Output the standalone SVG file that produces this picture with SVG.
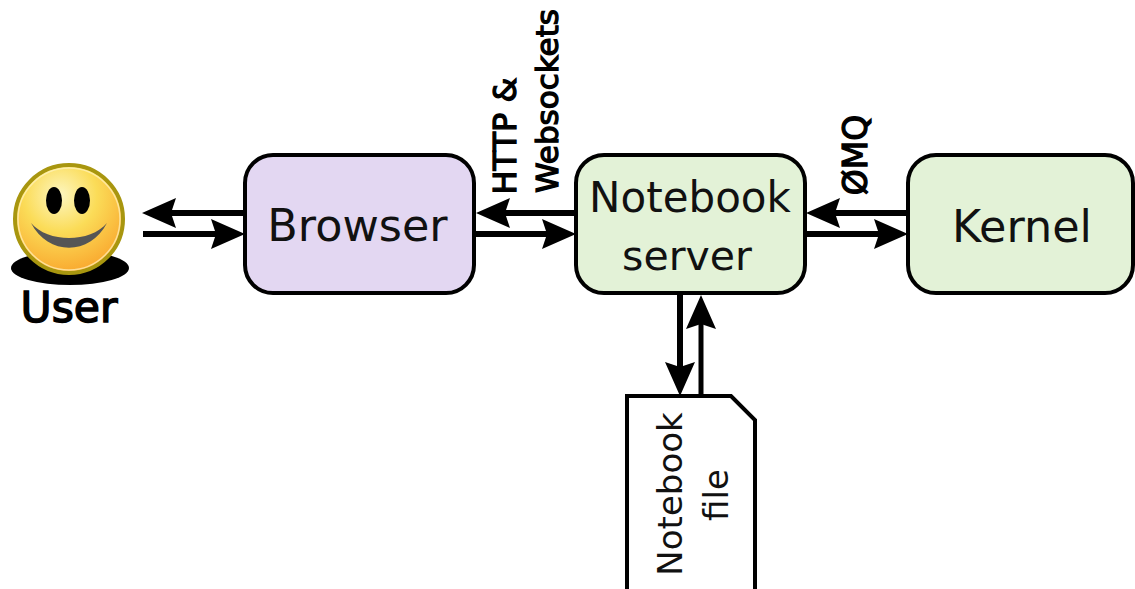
<svg xmlns="http://www.w3.org/2000/svg" width="1135" height="589" viewBox="0 0 1135 589">
<style>
.box{stroke:#000;stroke-width:4}
.t{font-family:"DejaVu Sans",sans-serif;font-size:44.5px;fill:#111;text-anchor:middle}
.n{font-size:42px}
.s{font-family:"DejaVu Sans",sans-serif;font-size:34px;fill:#111;text-anchor:middle}
.l{font-family:"DejaVu Sans",sans-serif;font-size:32px;fill:#000;stroke:#000;stroke-width:1.300;text-anchor:middle}
.c{fill:none;stroke:#000;stroke-width:6}
.c2{fill:none;stroke:#000;stroke-width:5}
</style>
<defs>
<marker id="a" markerUnits="userSpaceOnUse" markerWidth="36" markerHeight="32" refX="8" refY="16" orient="auto"><path d="M0 1L34 16L0 31L5 16Z" fill="#000"/></marker>
<radialGradient id="g" cx="0.42" cy="0.28" r="0.75"><stop offset="0" stop-color="#fdf6c0"/><stop offset="0.45" stop-color="#fbdc58"/><stop offset="1" stop-color="#f9a52c"/></radialGradient>
</defs>
<g id="connectors">
<path class="c" d="M245 213H168" marker-end="url(#a)"/>
<path class="c" d="M143 234H219" marker-end="url(#a)"/>
<path class="c" d="M576 213H502" marker-end="url(#a)"/>
<path class="c" d="M475 234H550" marker-end="url(#a)"/>
<path class="c" d="M908 213H832" marker-end="url(#a)"/>
<path class="c" d="M806 234H882" marker-end="url(#a)"/>
<path class="c" d="M680 294V370" marker-end="url(#a)"/>
<path class="c2" d="M701 396V321" marker-end="url(#a)"/>
</g>
<g id="user">
<ellipse cx="70" cy="268" rx="59" ry="17" fill="#000"/>
<circle cx="69" cy="219" r="54" fill="url(#g)" stroke="#a8960f" stroke-width="4"/>
<circle cx="69" cy="219" r="51" fill="none" stroke="#fff3c0" stroke-width="1.500" opacity=".7"/>
<ellipse cx="54" cy="200.500" rx="8" ry="13.500" fill="#000"/>
<ellipse cx="82" cy="200.500" rx="8" ry="13.500" fill="#000"/>
<path d="M31 223C48 256 90 256 107 223C90 243 48 243 31 223Z" fill="#555"/>
<text class="l" x="69" y="322" style="font-size:42.500px;stroke-width:1.500">User</text>
</g>
<g id="browser">
<rect class="box" x="245" y="155" width="229" height="138" rx="28" fill="#e3d7f2"/>
<text class="t" x="357.500" y="241">Browser</text>
</g>
<g id="server">
<rect class="box" x="576" y="155" width="229" height="138" rx="28" fill="#e3f2d7"/>
<text class="t n" x="690" y="212">Notebook</text>
<text class="t n" x="687" y="270" style="font-size:41px">server</text>
</g>
<g id="kernel">
<rect class="box" x="908" y="155" width="225" height="138" rx="28" fill="#e3f2d7"/>
<text class="t" x="1022" y="242">Kernel</text>
</g>
<g id="file">
<path d="M627 396H731L755 420V600H627Z" fill="#fff" stroke="#000" stroke-width="4"/>
<text class="s" transform="translate(682 494) rotate(-90)">Notebook</text>
<text class="s" transform="translate(728 495) rotate(-90)">file</text>
</g>
<g id="labels">
<text class="l" transform="translate(516 136) rotate(-90)">HTTP &amp;</text>
<text class="l" transform="translate(558 101) rotate(-90)" style="font-size:31px">Websockets</text>
<text class="l" transform="translate(867 155) rotate(-90)" style="font-size:33px">ØMQ</text>
</g>
</svg>
